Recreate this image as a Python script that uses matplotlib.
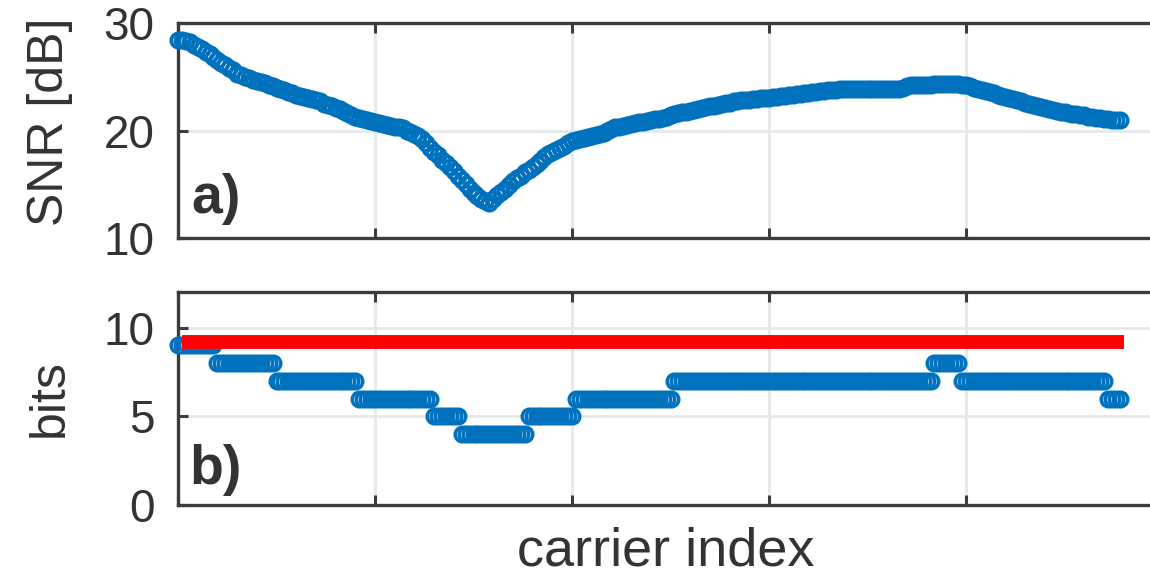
import numpy as np
import matplotlib
matplotlib.use("Agg")
import matplotlib.pyplot as plt

# ---------------- data ----------------
snr_db = [
    28.4, 28.4, 28.3, 28.2, 28.0, 27.8, 27.6, 27.3, 27.1, 26.8,
    26.6, 26.3, 26.1, 25.8, 25.6, 25.3, 25.2, 25.0, 24.9, 24.7,
    24.6, 24.5, 24.4, 24.2, 24.1, 24.0, 23.9, 23.8, 23.6, 23.5,
    23.3, 23.2, 23.1, 23.0, 22.9, 22.8, 22.7, 22.5, 22.4, 22.3,
    22.1, 22.0, 21.8, 21.6, 21.4, 21.3, 21.2, 21.1, 21.0, 20.9,
    20.8, 20.7, 20.6, 20.5, 20.4, 20.3, 20.3, 20.2, 20.0, 19.9,
    19.7, 19.5, 19.2, 18.8, 18.4, 18.0, 17.7, 17.3, 17.0, 16.6,
    16.2, 15.8, 15.4, 15.0, 14.6, 14.2, 13.9, 13.6, 13.4, 13.3,
    13.6, 14.0, 14.3, 14.6, 14.9, 15.3, 15.6, 15.8, 16.1, 16.3,
    16.6, 16.9, 17.2, 17.5, 17.8, 18.0, 18.2, 18.4, 18.6, 18.8,
    19.0, 19.1, 19.2, 19.3, 19.4, 19.5, 19.6, 19.7, 19.8, 20.0,
    20.1, 20.3, 20.3, 20.4, 20.5, 20.6, 20.7, 20.8, 20.8, 20.9,
    21.0, 21.1, 21.1, 21.2, 21.3, 21.4, 21.5, 21.6, 21.7, 21.7,
    21.8, 21.9, 22.0, 22.1, 22.2, 22.3, 22.3, 22.4, 22.5, 22.6,
    22.6, 22.7, 22.7, 22.8, 22.8, 22.8, 22.9, 22.9, 23.0, 23.0,
    23.0, 23.1, 23.1, 23.2, 23.2, 23.3, 23.3, 23.4, 23.4, 23.5,
    23.5, 23.6, 23.6, 23.7, 23.7, 23.8, 23.8, 23.8, 23.9, 23.9,
    23.9, 23.9, 23.9, 23.9, 23.9, 23.9, 23.9, 23.9, 23.9, 23.9,
    23.9, 23.9, 23.9, 23.9, 24.0, 24.1, 24.2, 24.2, 24.2, 24.2,
    24.2, 24.2, 24.3, 24.3, 24.3, 24.3, 24.3, 24.3, 24.3, 24.2,
    24.2, 24.1, 24.0, 23.9, 23.8, 23.7, 23.6, 23.5, 23.3, 23.2,
    23.1, 23.0, 22.9, 22.8, 22.7, 22.6, 22.5, 22.4, 22.3, 22.2,
    22.1, 22.0, 21.9, 21.8, 21.7, 21.7, 21.6, 21.5, 21.5, 21.4,
    21.4, 21.3, 21.3, 21.2, 21.2, 21.1, 21.1, 21.0, 21.0, 21.0,
]
carrier_index = np.arange(len(snr_db))

# bits loaded per carrier, as runs (level, number of carriers)
bit_levels  = [9, 8, 7, 6, 5, 4, 5, 6, 7, 8, 7, 6]
bit_runs    = [10, 15, 21, 19, 7, 17, 12, 25, 66, 7, 37, 4]
bits = np.repeat(bit_levels, bit_runs)

max_bits_level = 9.2
max_bits_span = [1, 240]

snr_ticks = [10, 20, 30]
bits_ticks = [0, 5, 10]
x_ticks = [0, 50, 100, 150, 200, 250]

# ---------------- style ----------------
W, H = 1150, 577
blue = "#0072BD"
ink = "#333333"
spine_c = "#3c3c3c"
grid_c = "#e6e9e9"
font = "Liberation Sans"
plt.rcParams["font.family"] = [font, "DejaVu Sans"]

fig = plt.figure(figsize=(W / 100, H / 100), dpi=100)

def fx(px):
    return px / W

def fy(py):
    return 1 - py / H

left_px, right_px = 178, 1163
ax1 = fig.add_axes([fx(left_px), fy(238), fx(right_px - left_px), (238 - 23) / H])
ax2 = fig.add_axes([fx(left_px), fy(505), fx(right_px - left_px), (505 - 292) / H])

mk = dict(marker="o", linestyle="none", markersize=10.5, markerfacecolor="none",
          markeredgecolor=blue, markeredgewidth=2.5, clip_on=False, zorder=3)

ax1.plot(carrier_index, snr_db, **mk)
ax2.plot(carrier_index, bits, **mk)
ax2.plot(max_bits_span, [max_bits_level, max_bits_level], color="#ff0000",
         linewidth=10, solid_capstyle="butt", zorder=4)

for ax, yl, yt in [(ax1, (10, 30), snr_ticks), (ax2, (0, 12), bits_ticks)]:
    ax.set_xlim(0, 250)
    ax.set_ylim(*yl)
    ax.set_xticks(x_ticks)
    ax.set_yticks(yt)
    ax.set_xticklabels([])
    ax.grid(True, color=grid_c, linewidth=2.0)
    ax.set_axisbelow(True)
    ax.tick_params(direction="in", length=7, width=2.2, color=spine_c,
                   top=True, right=True, labelsize=33, labelcolor=ink, pad=17)
    for s in ax.spines.values():
        s.set_color(spine_c)
        s.set_linewidth(2.4)

label_x = (50 - left_px) / (right_px - left_px)
ax1.set_ylabel("SNR [dB]", fontsize=36, color=ink)
ax2.set_ylabel("bits", fontsize=36, color=ink)
ax1.yaxis.set_label_coords(label_x, 0.54)
ax2.yaxis.set_label_coords(label_x, 0.5)
for lab in (ax1.yaxis.label, ax2.yaxis.label):
    lab.set_verticalalignment("center")

ax1.text(0.014, 0.115, "a)", transform=ax1.transAxes, fontsize=40,
         fontweight="bold", color=ink, ha="left", va="baseline")
ax2.text(0.012, 0.10, "b)", transform=ax2.transAxes, fontsize=40,
         fontweight="bold", color=ink, ha="left", va="baseline")

fig.text(fx(666), fy(566), "carrier index", fontsize=39, color=ink,
         ha="center", va="baseline")

fig.savefig("out.png", dpi=100)
